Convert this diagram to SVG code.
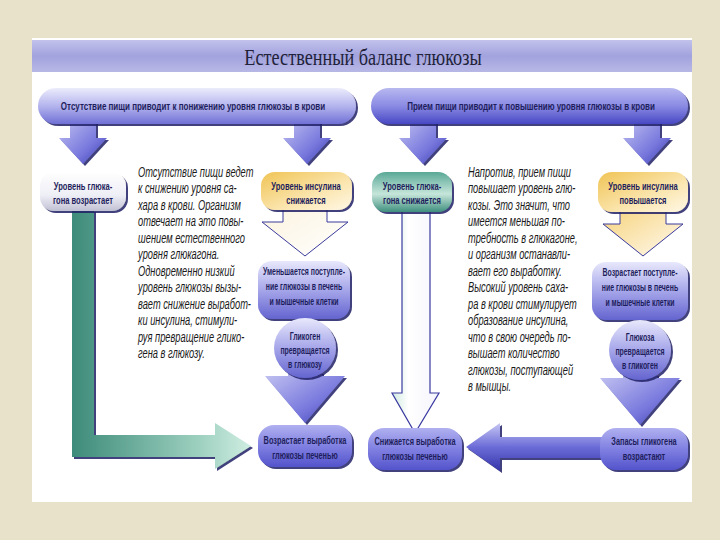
<svg xmlns="http://www.w3.org/2000/svg" width="720" height="540" viewBox="0 0 720 540">
<style>
.nl{font-family:"Liberation Sans",Arial,sans-serif;font-weight:bold;font-size:10.5px;fill:#1e1e5c;text-anchor:middle}
.bt{font-family:"Liberation Sans",Arial,sans-serif;font-style:italic;font-size:15px;fill:#1a1a1a}
.title{font-family:"Liberation Serif","Times New Roman",serif;font-size:24px;fill:#22223a;text-anchor:middle}
.shd{filter:url(#sh)}
</style>
<defs>
<filter id="sh" x="-10%" y="-10%" width="130%" height="140%"><feDropShadow dx="2" dy="2" stdDeviation="0.6" flood-color="#1c1c66" flood-opacity="0.85"/></filter>
<linearGradient id="gTitle" x1="0" y1="0" x2="0" y2="1"><stop offset="0" stop-color="#c2c2ec"/><stop offset="0.5" stop-color="#a2a2de"/><stop offset="1" stop-color="#b8b8e6"/></linearGradient>
<linearGradient id="gBanL" x1="0" y1="0" x2="0" y2="1"><stop offset="0" stop-color="#ececfc"/><stop offset="0.5" stop-color="#b4b4ee"/><stop offset="1" stop-color="#7070d6"/></linearGradient>
<linearGradient id="gBanR" x1="0" y1="0" x2="0" y2="1"><stop offset="0" stop-color="#b8b8f0"/><stop offset="0.5" stop-color="#8a8ae4"/><stop offset="1" stop-color="#4848c4"/></linearGradient>
<linearGradient id="gArr" x1="0" y1="0" x2="1" y2="1"><stop offset="0" stop-color="#c4c4f2"/><stop offset="0.6" stop-color="#7a7ade"/><stop offset="1" stop-color="#3c3cb4"/></linearGradient>
<linearGradient id="gLav" x1="0" y1="0" x2="0" y2="1"><stop offset="0" stop-color="#e8e8fc"/><stop offset="0.5" stop-color="#a6a6ea"/><stop offset="1" stop-color="#6464d0"/></linearGradient>
<linearGradient id="gBlue" x1="0" y1="0" x2="0" y2="1"><stop offset="0" stop-color="#b0b0f0"/><stop offset="0.5" stop-color="#8080e2"/><stop offset="1" stop-color="#5454cc"/></linearGradient>
<linearGradient id="gWhite" x1="0" y1="0" x2="0" y2="1"><stop offset="0" stop-color="#ffffff"/><stop offset="0.6" stop-color="#eeeef6"/><stop offset="1" stop-color="#c0c0d4"/></linearGradient>
<linearGradient id="gYel" x1="0" y1="0" x2="1" y2="1"><stop offset="0" stop-color="#f0c455"/><stop offset="0.6" stop-color="#fbe6b0"/><stop offset="1" stop-color="#fff8e6"/></linearGradient>
<linearGradient id="gYelA" x1="0" y1="0" x2="1" y2="1"><stop offset="0" stop-color="#f6d27a"/><stop offset="1" stop-color="#fffaf0"/></linearGradient>
<linearGradient id="gPale" x1="0" y1="0" x2="1" y2="1"><stop offset="0" stop-color="#fbf3de"/><stop offset="1" stop-color="#ffffff"/></linearGradient>
<linearGradient id="gGrnN" x1="0" y1="0" x2="0" y2="1"><stop offset="0" stop-color="#5aa897"/><stop offset="0.55" stop-color="#c6e6da"/><stop offset="1" stop-color="#3f8f7e"/></linearGradient>
<linearGradient id="gGrnV" x1="0" y1="0" x2="1" y2="0"><stop offset="0" stop-color="#3d8b7a"/><stop offset="0.7" stop-color="#9ccfbe"/><stop offset="1" stop-color="#cfeee2"/></linearGradient>
<linearGradient id="gWArr" x1="0" y1="0" x2="1" y2="0"><stop offset="0" stop-color="#cfeadf"/><stop offset="0.35" stop-color="#ffffff"/><stop offset="1" stop-color="#f4f4fc"/></linearGradient>
<linearGradient id="gLArr" x1="0" y1="0" x2="0" y2="1"><stop offset="0" stop-color="#c6c6f4"/><stop offset="0.5" stop-color="#6c6cd8"/><stop offset="1" stop-color="#3434aa"/></linearGradient>
</defs>
<rect x="0" y="0" width="720" height="540" fill="#e9e2ca"/>
<rect x="32" y="38" width="660" height="464" fill="#ffffff"/>
<g id="title">
<rect x="32" y="40" width="660" height="32" fill="url(#gTitle)"/>
<text class="title" transform="translate(363,65) scale(0.76,1)" x="0" y="0">Естественный баланс глюкозы</text>
</g>
<g id="connectors">
<path class="shd" d="M70,118 H96 V138 H107 L83,164 L59,138 H70 Z" fill="url(#gArr)"/>
<path class="shd" d="M294,118 H320 V138 H331 L307,164 L283,138 H294 Z" fill="url(#gArr)"/>
<path class="shd" d="M410,118 H436 V138 H447 L423,164 L399,138 H410 Z" fill="url(#gArr)"/>
<path class="shd" d="M634,118 H660 V138 H671 L647,164 L623,138 H634 Z" fill="url(#gArr)"/>
<path d="M283,206 H327 V222 H348 L305,256 L262,222 H283 Z" fill="url(#gPale)" stroke="#3a3a9c" stroke-width="1"/>
<path d="M620,208 H666 V224 H683 L643,256 L603,224 H620 Z" fill="url(#gYelA)" stroke="#3a3a9c" stroke-width="1"/>
<path class="shd" d="M288,372 H322 V376 H345 L305,423 L265,376 H288 Z" fill="url(#gArr)"/>
<path class="shd" d="M623,374 H657 V378 H680 L640,425 L600,378 H623 Z" fill="url(#gArr)"/>
<path class="shd" d="M72,210 H94 V435 H215 V423 L251,446 L215,469 V457 H72 Z" fill="url(#gGrnV)"/>
<path d="M402,210 H430 V393 H439 L415,433 L392,393 H402 Z" fill="url(#gWArr)" stroke="#3a3aa0" stroke-width="1.2"/>
<path class="shd" d="M606,437 V458 H500 V471 L466,447 L500,423 V437 Z" fill="url(#gLArr)"/>
</g>
<g id="banner-left">
<rect class="shd" x="38" y="88" width="318" height="36" rx="18" fill="url(#gBanL)"/>
<text class="nl" transform="translate(193,110) scale(0.8,1)" x="0" y="0" style="font-size:10px">Отсутствие пищи приводит к понижению уровня глюкозы в крови</text>
</g>
<g id="banner-right">
<rect class="shd" x="371" y="88" width="317" height="36" rx="18" fill="url(#gBanR)"/>
<text class="nl" transform="translate(531,110) scale(0.8,1)" x="0" y="0" style="font-size:10px">Прием пищи приводит к повышению уровня глюкозы в крови</text>
</g>
<g id="glucagon-up">
<rect class="shd" x="40" y="172" width="86" height="39" rx="14" fill="url(#gWhite)"/>
<text class="nl" transform="translate(83,0) scale(0.72,1)"><tspan x="0" y="190">Уровень глюка-</tspan><tspan x="0" y="204">гона возрастает</tspan></text>
</g>
<g id="insulin-down">
<rect class="shd" x="261" y="172" width="91" height="38" rx="14" fill="url(#gYel)"/>
<text class="nl" transform="translate(306,0) scale(0.72,1)"><tspan x="0" y="190">Уровень инсулина</tspan><tspan x="0" y="204">снижается</tspan></text>
</g>
<g id="uptake-down">
<rect class="shd" x="258" y="261" width="92" height="58" rx="14" fill="url(#gLav)"/>
<text class="nl" transform="translate(304,0) scale(0.66,1)"><tspan x="0" y="275">Уменьшается поступле-</tspan><tspan x="0" y="290">ние глюкозы в печень</tspan><tspan x="0" y="305">и мышечные клетки</tspan></text>
</g>
<g id="glycogen-to-glucose">
<ellipse class="shd" cx="305" cy="348" rx="31" ry="30" fill="url(#gLav)"/>
<text class="nl" transform="translate(305,0) scale(0.66,1)"><tspan x="0" y="340">Гликоген</tspan><tspan x="0" y="354">превращается</tspan><tspan x="0" y="368">в глюкозу</tspan></text>
</g>
<g id="liver-output-up">
<rect class="shd" x="258" y="425" width="94" height="42" rx="16" fill="url(#gBlue)"/>
<text class="nl" transform="translate(305,0) scale(0.7,1)"><tspan x="0" y="444">Возрастает выработка</tspan><tspan x="0" y="459">глюкозы печенью</tspan></text>
</g>
<g id="glucagon-down">
<rect class="shd" x="372" y="172" width="80" height="40" rx="14" fill="url(#gGrnN)"/>
<text class="nl" transform="translate(412,0) scale(0.72,1)"><tspan x="0" y="190">Уровень глюка-</tspan><tspan x="0" y="204">гона снижается</tspan></text>
</g>
<g id="insulin-up">
<rect class="shd" x="598" y="172" width="90" height="40" rx="14" fill="url(#gYel)"/>
<text class="nl" transform="translate(643,0) scale(0.72,1)"><tspan x="0" y="190">Уровень инсулина</tspan><tspan x="0" y="204">повышается</tspan></text>
</g>
<g id="uptake-up">
<rect class="shd" x="592" y="262" width="96" height="58" rx="14" fill="url(#gLav)"/>
<text class="nl" transform="translate(640,0) scale(0.66,1)"><tspan x="0" y="276">Возрастает поступле-</tspan><tspan x="0" y="291">ние глюкозы в печень</tspan><tspan x="0" y="306">и мышечные клетки</tspan></text>
</g>
<g id="glucose-to-glycogen">
<ellipse class="shd" cx="640" cy="350" rx="31" ry="30" fill="url(#gLav)"/>
<text class="nl" transform="translate(640,0) scale(0.66,1)"><tspan x="0" y="341">Глюкоза</tspan><tspan x="0" y="355">превращается</tspan><tspan x="0" y="369">в гликоген</tspan></text>
</g>
<g id="liver-output-down">
<rect class="shd" x="368" y="428" width="94" height="42" rx="16" fill="url(#gBlue)"/>
<text class="nl" transform="translate(415,0) scale(0.7,1)"><tspan x="0" y="445">Снижается выработка</tspan><tspan x="0" y="460">глюкозы печенью</tspan></text>
</g>
<g id="glycogen-stores-up">
<rect class="shd" x="600" y="428" width="88" height="42" rx="16" fill="url(#gBlue)"/>
<text class="nl" transform="translate(644,0) scale(0.7,1)"><tspan x="0" y="445">Запасы гликогена</tspan><tspan x="0" y="460">возрастают</tspan></text>
</g>
<g id="text-left">
<text class="bt" transform="translate(138,0) scale(0.62,1)"><tspan x="0" y="177">Отсутствие пищи ведет</tspan><tspan x="0" y="193.5">к снижению уровня са-</tspan><tspan x="0" y="210">хара в крови. Организм</tspan><tspan x="0" y="226.5">отвечает на это повы-</tspan><tspan x="0" y="243">шением естественного</tspan><tspan x="0" y="259.5">уровня глюкагона.</tspan><tspan x="0" y="276">Одновременно низкий</tspan><tspan x="0" y="292.5">уровень глюкозы вызы-</tspan><tspan x="0" y="309">вает снижение выработ-</tspan><tspan x="0" y="325.5">ки инсулина, стимули-</tspan><tspan x="0" y="342">руя превращение глико-</tspan><tspan x="0" y="358.5">гена в глюкозу.</tspan></text>
</g>
<g id="text-right">
<text class="bt" transform="translate(468,0) scale(0.62,1)"><tspan x="0" y="177">Напротив, прием пищи</tspan><tspan x="0" y="193.5">повышает уровень глю-</tspan><tspan x="0" y="210">козы. Это значит, что</tspan><tspan x="0" y="226.5">имеется меньшая по-</tspan><tspan x="0" y="243">требность в глюкагоне,</tspan><tspan x="0" y="259.5">и организм останавли-</tspan><tspan x="0" y="276">вает его выработку.</tspan><tspan x="0" y="292.5">Высокий уровень саха-</tspan><tspan x="0" y="309">ра в крови стимулирует</tspan><tspan x="0" y="325.5">образование инсулина,</tspan><tspan x="0" y="342">что в свою очередь по-</tspan><tspan x="0" y="358.5">вышает количество</tspan><tspan x="0" y="375">глюкозы, поступающей</tspan><tspan x="0" y="391.5">в мышцы.</tspan></text>
</g>
</svg>
